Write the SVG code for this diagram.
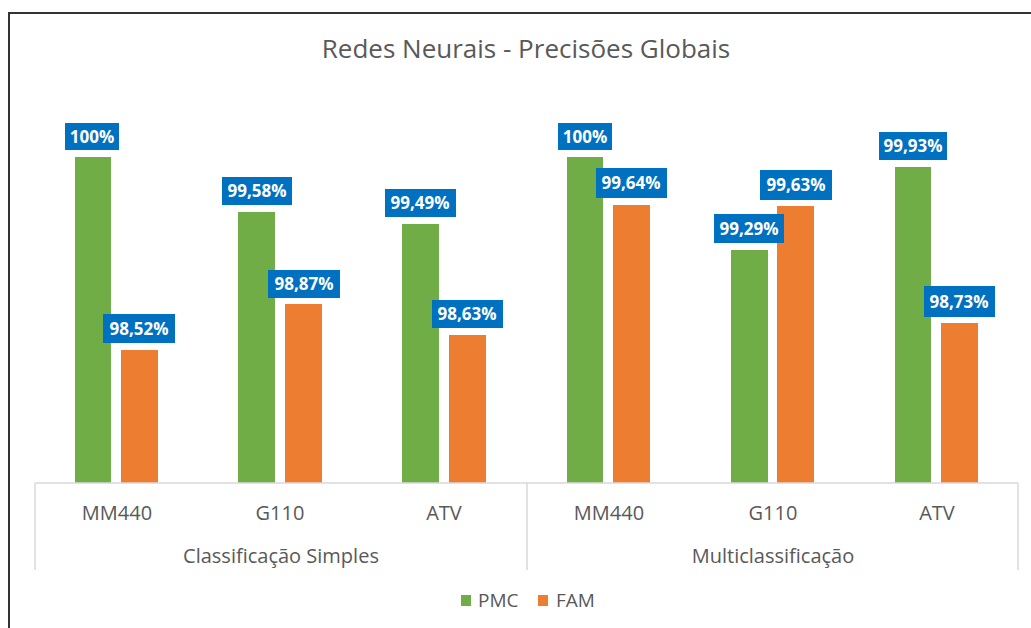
<svg xmlns="http://www.w3.org/2000/svg" width="1031" height="628" viewBox="0 0 1031 628">
<style>
.pmc{fill:#70AD47}
.fam{fill:#ED7D31}
.lbl rect{fill:#0070C0}
.lbl text{fill:#fff;font-family:"Open Sans",sans-serif;font-weight:bold;font-size:17px;text-anchor:middle}
.ax{stroke:#D9D9D9;stroke-width:1.5;fill:none}
.cat{fill:#595959;font-family:"Open Sans",sans-serif;font-size:20px;text-anchor:middle}
.leg{fill:#595959;font-family:"Open Sans",sans-serif;font-size:19px}
.title{fill:#595959;font-family:"Open Sans",sans-serif;font-size:26px;text-anchor:middle}
</style>
<rect x="0" y="0" width="1031" height="628" fill="#fff"/>
<path d="M9 628 V13 H1031" fill="none" stroke="#333" stroke-width="2"/>
<text class="title" x="526" y="58">Redes Neurais - Precisões Globais</text>
<g id="bars">
<rect class="pmc" x="75" y="157" width="36" height="326"/>
<rect class="fam" x="121" y="350" width="37" height="133"/>
<rect class="pmc" x="238" y="212" width="37" height="271"/>
<rect class="fam" x="285" y="304" width="37" height="179"/>
<rect class="pmc" x="402" y="224" width="37" height="259"/>
<rect class="fam" x="449" y="335" width="37" height="148"/>
<rect class="pmc" x="567" y="157" width="36" height="326"/>
<rect class="fam" x="613" y="205" width="37" height="278"/>
<rect class="pmc" x="731" y="250" width="37" height="233"/>
<rect class="fam" x="777" y="206" width="37" height="277"/>
<rect class="pmc" x="895" y="167" width="36" height="316"/>
<rect class="fam" x="941" y="323" width="37" height="160"/>
</g>
<g id="labels">
<g class="lbl"><rect x="65" y="123" width="54" height="27"/><text x="92" y="143">100%</text></g>
<g class="lbl"><rect x="103" y="314" width="72" height="29"/><text x="139" y="335">98,52%</text></g>
<g class="lbl"><rect x="222" y="177" width="70" height="28"/><text x="257" y="197">99,58%</text></g>
<g class="lbl"><rect x="268" y="270" width="72" height="28"/><text x="304" y="290">98,87%</text></g>
<g class="lbl"><rect x="385" y="189" width="71" height="28"/><text x="420" y="209">99,49%</text></g>
<g class="lbl"><rect x="432" y="300" width="71" height="28"/><text x="467" y="320">98,63%</text></g>
<g class="lbl"><rect x="558" y="123" width="54" height="27"/><text x="585" y="143">100%</text></g>
<g class="lbl"><rect x="596" y="168" width="71" height="30"/><text x="631" y="189">99,64%</text></g>
<g class="lbl"><rect x="760" y="170" width="72" height="30"/><text x="796" y="191">99,63%</text></g>
<g class="lbl"><rect x="714" y="214" width="70" height="29"/><text x="749" y="235">99,29%</text></g>
<g class="lbl"><rect x="879" y="132" width="68" height="28"/><text x="913" y="152">99,93%</text></g>
<g class="lbl"><rect x="924" y="286" width="71" height="31"/><text x="959" y="308">98,73%</text></g>
</g>
<g id="axis">
<path class="ax" d="M35 483 H1018 M35 483 V570 M527 483 V570 M1018 483 V570"/>
<text class="cat" x="117" y="520">MM440</text>
<text class="cat" x="280" y="520">G110</text>
<text class="cat" x="444" y="520">ATV</text>
<text class="cat" x="609" y="520">MM440</text>
<text class="cat" x="773" y="520">G110</text>
<text class="cat" x="937" y="520">ATV</text>
<text class="cat" x="281" y="563">Classificação Simples</text>
<text class="cat" x="773" y="563">Multiclassificação</text>
</g>
<g id="legend">
<rect class="pmc" x="461" y="595" width="10" height="11"/>
<text class="leg" x="478" y="607">PMC</text>
<rect class="fam" x="538" y="595" width="10" height="11"/>
<text class="leg" x="556" y="607">FAM</text>
</g>
</svg>
